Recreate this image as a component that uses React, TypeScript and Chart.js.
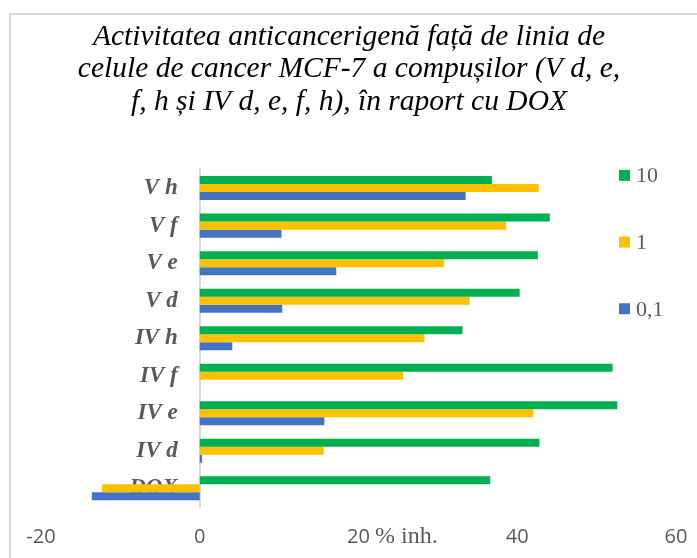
import React, { useEffect, useRef } from "react";
import { Chart, registerables } from "chart.js";

Chart.register(...registerables);

const titleLines = [
  "Activitatea anticancerigenă față de linia de",
  "celule de cancer MCF-7 a compușilor (V d, e,",
  "f, h și IV d, e, f, h), în raport cu DOX",
];
const categories = ["V h", "V f", "V e", "V d", "IV h", "IV f", "IV e", "IV d", "DOX"];
const seriesLabels = ["10", "1", "0,1"];
const seriesColors = ["#00B050", "#FFC000", "#4472C4"];
const values10 = [36.8, 44.1, 42.6, 40.3, 33.1, 52.0, 52.6, 42.8, 36.6];
const values1 = [42.7, 38.6, 30.8, 34.0, 28.3, 25.6, 42.0, 15.6, -12.3];
const values01 = [33.5, 10.3, 17.2, 10.4, 4.1, 0, 15.7, 0.3, -13.6];
const xMin = -20;
const xMax = 60;
const xStep = 20;
const axisTitle = "% inh.";

const Y_LABEL_GAP = 22;

const overlayPlugin = {
  id: "overlay",
  beforeDraw(chart: any) {
    const ys = chart.scales.y;
    const items = ys.getLabelItems(chart.chartArea);
    if (!ys.$shifted) {
      items.forEach((it: any) => {
        it.options.translation[0] -= Y_LABEL_GAP;
      });
      ys.$shifted = true;
    }
  },
  afterDraw(chart: any) {
    const ctx = chart.ctx;
    const area = chart.chartArea;
    ctx.save();
    const datasets = chart.data.datasets;
    ctx.font = "22px 'Liberation Serif'";
    ctx.textBaseline = "middle";
    ctx.textAlign = "left";
    datasets.forEach((ds: any, i: number) => {
      const cy = area.top + 6 + i * 66.7;
      const bx = area.right - 57;
      ctx.fillStyle = ds.backgroundColor;
      ctx.fillRect(bx, cy - 5.5, 11, 11);
      ctx.fillStyle = "#595959";
      ctx.fillText(ds.label, bx + 17, cy + 1);
    });
    ctx.font = "24px 'Liberation Serif'";
    ctx.textAlign = "left";
    ctx.textBaseline = "alphabetic";
    ctx.fillStyle = "#595959";
    ctx.fillText(axisTitle, area.left + 334, area.bottom + 36);
    ctx.restore();
  },
};

export default function App() {
  const ref = useRef<HTMLCanvasElement>(null);
  useEffect(() => {
    const chart = new Chart(ref.current!, {
      type: "bar",
      data: {
        labels: categories,
        datasets: [
          { label: seriesLabels[0], data: values10, backgroundColor: seriesColors[0] },
          { label: seriesLabels[1], data: values1, backgroundColor: seriesColors[1] },
          { label: seriesLabels[2], data: values01, backgroundColor: seriesColors[2] },
        ],
      },
      options: {
        indexAxis: "y",
        animation: false,
        responsive: false,
        maintainAspectRatio: false,
        datasets: { bar: { categoryPercentage: 0.64, barPercentage: 1, borderWidth: 0 } },
        layout: { padding: { left: 22, right: 21, top: 0, bottom: 6 } },
        plugins: {
          legend: { display: false },
          tooltip: { enabled: false },
          title: {
            display: true,
            text: titleLines,
            color: "#000000",
            font: { family: "'Liberation Serif'", size: 29.5, style: "italic", weight: "normal", lineHeight: 1.1 },
            padding: { top: 21, bottom: 51 },
          },
        },
        scales: {
          x: {
            type: "linear",
            min: xMin,
            max: xMax,
            ticks: {
              stepSize: xStep,
              color: "#595959",
              font: { family: "'Open Sans'", size: 20 },
              padding: 3,
            },
            grid: { display: false, drawTicks: true, tickLength: 15 },
            border: { display: false },
          },
          y: {
            type: "category",
            position: { x: 0 } as any,
            ticks: {
              color: "#595959",
              font: { family: "'Liberation Serif'", size: 23, style: "italic", weight: "bold" },
              padding: 0,
            },
            grid: { display: false, drawTicks: false },
            border: { display: true, color: "#d9d9d9", width: 2 },
          },
          spacer: {
            type: "linear",
            position: "left",
            display: true,
            ticks: { display: false },
            grid: { display: false, drawTicks: false },
            border: { display: false },
            afterFit: (s: any) => {
              s.width = 19;
            },
          },
        },
      },
      plugins: [overlayPlugin],
    });
    return () => chart.destroy();
  }, []);
  return (
    <div style={{ position: "fixed", left: 0, top: 0, width: 697, height: 558, overflow: "hidden", background: "#fff" }}>
      <div style={{ position: "absolute", left: 9, top: 13, width: 900, height: 900, border: "2px solid #d9d9d9" }} />
      <canvas ref={ref} width={697} height={558} style={{ position: "absolute", left: 0, top: 0, width: 697, height: 558 }} />
    </div>
  );
}
